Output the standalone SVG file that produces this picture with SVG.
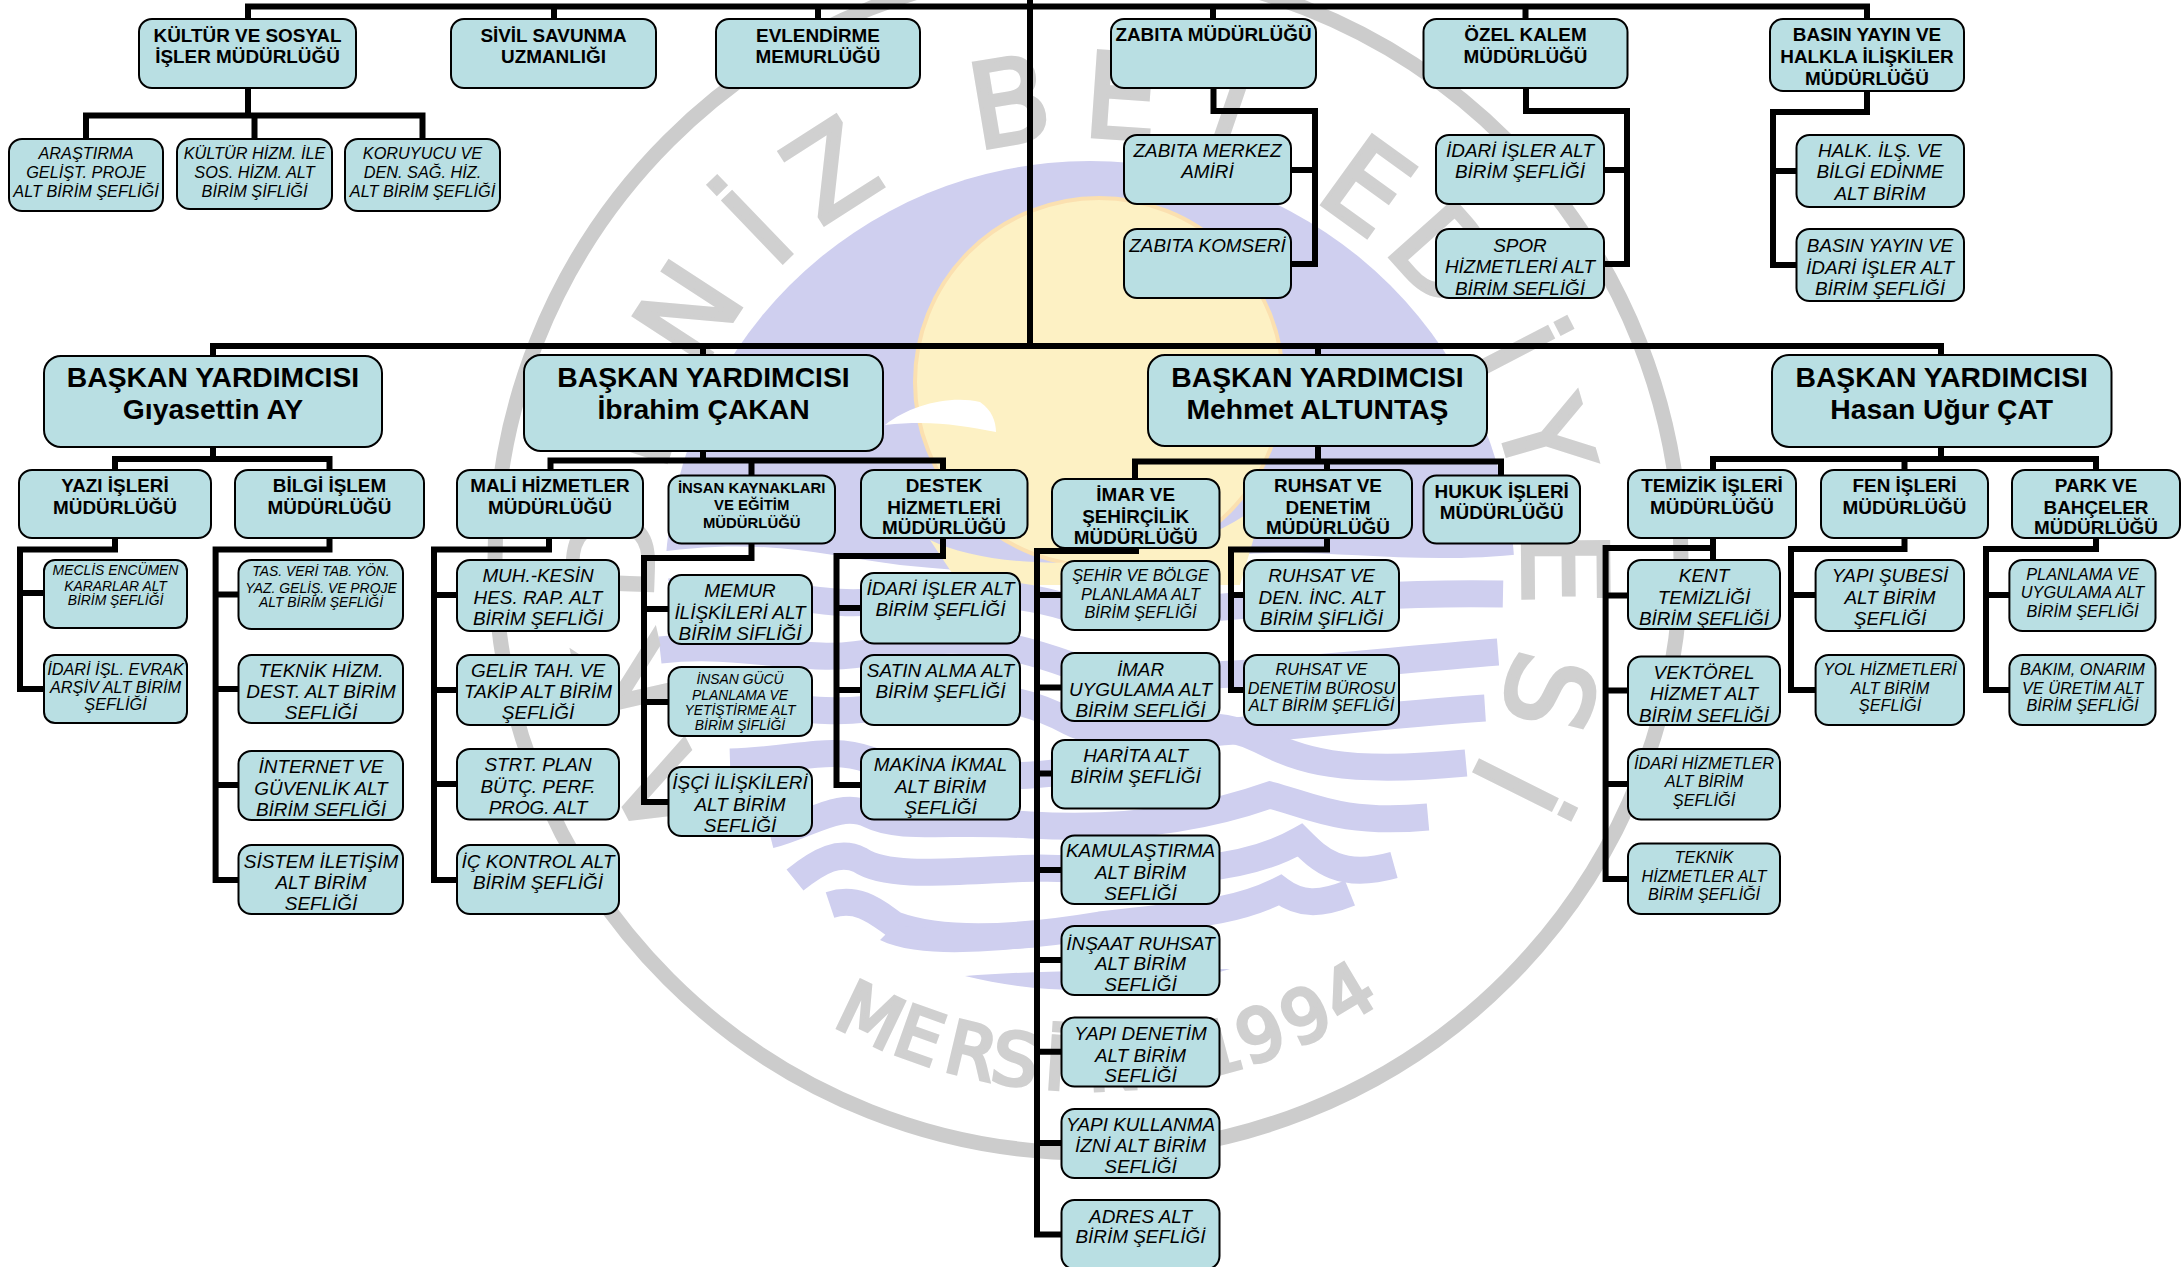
<svg xmlns="http://www.w3.org/2000/svg" xmlns:xlink="http://www.w3.org/1999/xlink" width="2181" height="1267" viewBox="0 0 2181 1267">
<style>
text{font-family:"Liberation Sans",Arial,sans-serif;text-anchor:middle;fill:#000}
.b{fill:#b9dfe3;stroke:#000;stroke-width:2}
.c{fill:none;stroke:#000;stroke-width:6;stroke-linecap:square;stroke-linejoin:miter}
.v{font-size:28.3px;font-weight:700}
.h{font-size:18.9px;font-weight:700}
.k{font-size:14.9px;font-weight:700}
.i{font-size:18.9px;font-style:italic}
.s{font-size:16.3px;font-style:italic}
.t{font-size:13.9px;font-style:italic}
.wl{font-family:"DejaVu Sans",sans-serif;fill:#d0d0d0;stroke:#d0d0d0;stroke-width:4}
.wv{fill:none;stroke:#cfcfef;stroke-width:27}
</style>
<defs>
<path id="arcTop" pathLength="360" d="M1088 137A435 435 0 1 1 1087.99 137Z"/>
<path id="arcBot" pathLength="360" d="M1088 1090A530 530 0 1 0 1087.99 1090Z"/>
<clipPath id="domeClip"><path d="M640 100H1540V552C1400 570 1300 540 1200 560C1100 580 1000 575 900 565C820 555 760 535 640 555Z"/></clipPath>
</defs>
<rect width="2181" height="1267" fill="#fff"/>
<g id="watermark">
<circle cx="1088" cy="560" r="593" fill="none" stroke="#ccc" stroke-width="15"/>
<circle cx="1090" cy="586" r="425" fill="#cfcfef" clip-path="url(#domeClip)"/>
<circle cx="1099" cy="382" r="184" fill="#fdf1c4" stroke="#fbe0b0" stroke-width="4"/>
<path d="M930 540C1000 575 1180 575 1265 500L1240 585H960Z" fill="#fdf1c4"/>
<path d="M885 425C910 405 950 395 980 402C992 410 996 422 996 432C960 425 930 420 885 425Z" fill="#fff"/>
<g id="waves">
<path class="wv" d="M670 592C760 580 820 612 885 600S1010 590 1070 608S1300 590 1503 594"/>
<path class="wv" d="M660 650C750 640 812 668 880 650S1000 640 1070 665S1300 668 1498 652"/>
<path class="wv" d="M690 705C760 700 830 720 890 705S1010 690 1070 722S1300 720 1485 708"/>
<path class="wv" d="M730 762C800 760 830 745 870 760S1010 780 1060 772C1120 760 1180 700 1260 740C1300 760 1340 775 1466 763"/>
<path class="wv" d="M770 835C810 825 840 800 870 815C900 830 950 820 1030 825C1120 830 1200 820 1270 795C1310 805 1340 825 1428 817"/>
<path class="wv" stroke-width="24" d="M795 880C820 860 840 850 860 860C890 880 960 870 1040 868C1140 870 1230 880 1300 840C1320 860 1340 880 1394 865"/>
<path class="wv" stroke-width="24" d="M830 905C860 895 880 915 895 925C950 945 1040 935 1100 925C1180 915 1230 915 1280 890C1300 905 1320 905 1350 893"/>
<path d="M965 976C1040 970 1140 970 1230 969C1160 990 1060 1000 965 976Z" fill="#cfcfef"/>
<path d="M880 940C920 960 1000 950 1040 947L1040 925C990 930 930 930 895 925Z" fill="#cfcfef"/>
</g>
<text class="wl" font-size="117"><textPath xlink:href="#arcTop" href="#arcTop" startOffset="242.4">A</textPath><textPath xlink:href="#arcTop" href="#arcTop" startOffset="257">K</textPath><textPath xlink:href="#arcTop" href="#arcTop" startOffset="272">D</textPath><textPath xlink:href="#arcTop" href="#arcTop" startOffset="288">E</textPath><textPath xlink:href="#arcTop" href="#arcTop" startOffset="303">N</textPath><textPath xlink:href="#arcTop" href="#arcTop" startOffset="316.2">İ</textPath><textPath xlink:href="#arcTop" href="#arcTop" startOffset="327.4">Z</textPath><textPath xlink:href="#arcTop" href="#arcTop" startOffset="350.5">B</textPath><textPath xlink:href="#arcTop" href="#arcTop" startOffset="4">E</textPath><textPath xlink:href="#arcTop" href="#arcTop" startOffset="19">L</textPath><textPath xlink:href="#arcTop" href="#arcTop" startOffset="35.9">E</textPath><textPath xlink:href="#arcTop" href="#arcTop" startOffset="48.3">D</textPath><textPath xlink:href="#arcTop" href="#arcTop" startOffset="62.6">İ</textPath><textPath xlink:href="#arcTop" href="#arcTop" startOffset="73.7">Y</textPath><textPath xlink:href="#arcTop" href="#arcTop" startOffset="89.5">E</textPath><textPath xlink:href="#arcTop" href="#arcTop" startOffset="104.6">S</textPath><textPath xlink:href="#arcTop" href="#arcTop" startOffset="116.5">İ</textPath></text>
<text class="wl" font-size="72"><textPath xlink:href="#arcBot" href="#arcBot" startOffset="334.5">M</textPath><textPath xlink:href="#arcBot" href="#arcBot" startOffset="340.5">E</textPath><textPath xlink:href="#arcBot" href="#arcBot" startOffset="346.7">R</textPath><textPath xlink:href="#arcBot" href="#arcBot" startOffset="351.7">S</textPath><textPath xlink:href="#arcBot" href="#arcBot" startOffset="356.3">İ</textPath><textPath xlink:href="#arcBot" href="#arcBot" startOffset="3">N</textPath><textPath xlink:href="#arcBot" href="#arcBot" startOffset="15">1</textPath><textPath xlink:href="#arcBot" href="#arcBot" startOffset="20">9</textPath><textPath xlink:href="#arcBot" href="#arcBot" startOffset="25.6">9</textPath><textPath xlink:href="#arcBot" href="#arcBot" startOffset="31">4</textPath></text>
</g>
<g id="connectors">
<path class="c" d="M1030 0V346M248 19V6.5H1867V19M554 6.5V19M818 6.5V19M1213 6.5V19M1525.5 6.5V19"/>
<path class="c" d="M213 356V346H1941V355M703 346V355M1318 346V355"/>
<path class="c" d="M248 88V115.5M86 139V115.5H422.5V139M254.5 115.5V139"/>
<path class="c" d="M1213.5 88V111H1315V264H1291M1291 170H1315"/>
<path class="c" d="M1526 88V111H1627V264H1604M1604 170H1627"/>
<path class="c" d="M1867 91V112H1773V265H1796.5M1773 171H1796.5"/>
<path class="c" d="M213 447V459M115 470V459H329.5V470"/>
<path class="c" d="M115 538V549.5H20V689H44M20 593H44"/>
<path class="c" d="M329.5 538V549.5H215.6V880H238.5M215.6 594.5H238.5M215.6 689H238.5M215.6 785H238.5"/>
<path class="c" d="M703 451V460.5M550.5 470V460.5H943V470M751.5 460.5V475.5"/>
<path class="c" d="M549 538V549.5H434V880H457M434 595H457M434 690H457M434 784H457"/>
<path class="c" d="M751.5 544V558H644V802H668.5M644 609H668.5M644 702H668.5"/>
<path class="c" d="M943 538V556H836.5V785H861M836.5 608H861M836.5 690H861"/>
<path class="c" d="M1318 446V461.5M1135 479V461.5H1501V475.5M1327 461.5V470"/>
<path class="c" d="M1136 548V551H1037V1234.5H1061M1037 595H1061M1037 687.5H1061M1037 773.6H1052M1037 870H1061M1037 960H1061M1037 1051.7H1061M1037 1143H1061"/>
<path class="c" d="M1327 538V549.5H1231V690H1244M1231 595H1244"/>
<path class="c" d="M1941 447V459M1713 470V459H2096V470M1904.5 459V470"/>
<path class="c" d="M1713 538V560M1713 548H1605.6V879H1628M1605.6 595.6H1628M1605.6 690.5H1628M1605.6 784H1628"/>
<path class="c" d="M1904.5 538V549H1791V690H1815.6M1791 595H1815.6"/>
<path class="c" d="M2096 538V549H1986V690H2009.4M1986 595H2009.4"/>
</g>
<g id="n-kultur"><rect class="b" x="139" y="19" width="217" height="69" rx="13"/><text class="h" y="41.7"><tspan x="247.5">KÜLTÜR VE SOSYAL</tspan><tspan x="247.5" y="63.3">İŞLER MÜDÜRLÜĞÜ</tspan></text></g>
<g id="n-sivil"><rect class="b" x="451" y="19" width="205" height="69" rx="13"/><text class="h" y="41.7"><tspan x="553.5">SİVİL SAVUNMA</tspan><tspan x="553.5" y="63.3">UZMANLIĞI</tspan></text></g>
<g id="n-evlendirme"><rect class="b" x="716" y="19" width="204" height="69" rx="13"/><text class="h" y="41.7"><tspan x="818">EVLENDİRME</tspan><tspan x="818" y="63.3">MEMURLÜĞÜ</tspan></text></g>
<g id="n-zabita"><rect class="b" x="1111" y="19" width="205" height="69" rx="13"/><text class="h" y="41"><tspan x="1213.5">ZABITA MÜDÜRLÜĞÜ</tspan></text></g>
<g id="n-ozel"><rect class="b" x="1423.5" y="19" width="204" height="69" rx="13"/><text class="h" y="41"><tspan x="1525.5">ÖZEL KALEM</tspan><tspan x="1525.5" y="62.7">MÜDÜRLÜĞÜ</tspan></text></g>
<g id="n-basin"><rect class="b" x="1770" y="19" width="194" height="72" rx="13"/><text class="h" y="41"><tspan x="1867">BASIN YAYIN VE</tspan><tspan x="1867" y="62.7">HALKLA İLİŞKİLER</tspan><tspan x="1867" y="84.7">MÜDÜRLÜĞÜ</tspan></text></g>
<g id="n-arastirma"><rect class="b" x="9" y="139" width="154" height="72" rx="13"/><text class="s" y="159.3"><tspan x="86">ARAŞTIRMA</tspan><tspan x="86" y="177.7">GELİŞT. PROJE</tspan><tspan x="86" y="196.5">ALT BİRİM ŞEFLİĞİ</tspan></text></g>
<g id="n-kulturhizm"><rect class="b" x="177" y="139" width="155" height="70" rx="13"/><text class="s" y="159.3"><tspan x="254.5">KÜLTÜR HİZM. İLE</tspan><tspan x="254.5" y="177.7">SOS. HİZM. ALT</tspan><tspan x="254.5" y="196.5">BİRİM ŞİFLİĞİ</tspan></text></g>
<g id="n-koruyucu"><rect class="b" x="345" y="139" width="155" height="72" rx="13"/><text class="s" y="159.3"><tspan x="422.5">KORUYUCU VE</tspan><tspan x="422.5" y="177.7">DEN. SAĞ. HİZ.</tspan><tspan x="422.5" y="196.5">ALT BİRİM ŞEFLİĞİ</tspan></text></g>
<g id="n-zabitamerkez"><rect class="b" x="1124" y="135" width="167" height="69" rx="13"/><text class="i" y="157"><tspan x="1207.5">ZABITA MERKEZ</tspan><tspan x="1207.5" y="178">AMİRİ</tspan></text></g>
<g id="n-zabitakomser"><rect class="b" x="1124" y="229" width="167" height="69" rx="13"/><text class="i" y="251.7"><tspan x="1207.5">ZABITA KOMSERİ</tspan></text></g>
<g id="n-idariisler1"><rect class="b" x="1436" y="135" width="168" height="69" rx="13"/><text class="i" y="157"><tspan x="1520">İDARİ İŞLER ALT</tspan><tspan x="1520" y="178">BİRİM ŞEFLİĞİ</tspan></text></g>
<g id="n-spor"><rect class="b" x="1436" y="229" width="168" height="69" rx="13"/><text class="i" y="252"><tspan x="1520">SPOR</tspan><tspan x="1520" y="273">HİZMETLERİ ALT</tspan><tspan x="1520" y="295">BİRİM SEFLİĞİ</tspan></text></g>
<g id="n-halk"><rect class="b" x="1796.5" y="135" width="167.5" height="72" rx="13"/><text class="i" y="157"><tspan x="1880">HALK. İLŞ. VE</tspan><tspan x="1880" y="178">BİLGİ EDİNME</tspan><tspan x="1880" y="200">ALT BİRİM</tspan></text></g>
<g id="n-basinyayin"><rect class="b" x="1796.5" y="229" width="167.5" height="72" rx="13"/><text class="i" y="252"><tspan x="1880">BASIN YAYIN VE</tspan><tspan x="1880" y="273.5">İDARİ İŞLER ALT</tspan><tspan x="1880" y="295">BİRİM ŞEFLİĞİ</tspan></text></g>
<g id="n-vp1"><rect class="b" x="44" y="356" width="338" height="91" rx="17"/><text class="v" y="386.7"><tspan x="213">BAŞKAN YARDIMCISI</tspan><tspan x="213" y="418.5">Gıyasettin AY</tspan></text></g>
<g id="n-vp2"><rect class="b" x="524" y="355" width="359" height="96" rx="17"/><text class="v" y="386.7"><tspan x="703.5">BAŞKAN YARDIMCISI</tspan><tspan x="703.5" y="418.5">İbrahim ÇAKAN</tspan></text></g>
<g id="n-vp3"><rect class="b" x="1148" y="355" width="339" height="91" rx="17"/><text class="v" y="386.7"><tspan x="1317.5">BAŞKAN YARDIMCISI</tspan><tspan x="1317.5" y="418.5">Mehmet ALTUNTAŞ</tspan></text></g>
<g id="n-vp4"><rect class="b" x="1772" y="355" width="339.5" height="92" rx="17"/><text class="v" y="386.7"><tspan x="1941.7">BAŞKAN YARDIMCISI</tspan><tspan x="1941.7" y="418.5">Hasan Uğur ÇAT</tspan></text></g>
<g id="n-yazi"><rect class="b" x="19" y="470" width="192" height="68" rx="13"/><text class="h" y="492.3"><tspan x="115">YAZI İŞLERİ</tspan><tspan x="115" y="514">MÜDÜRLÜĞÜ</tspan></text></g>
<g id="n-bilgi"><rect class="b" x="235" y="470" width="189" height="68" rx="13"/><text class="h" y="492.3"><tspan x="329.5">BİLGİ İŞLEM</tspan><tspan x="329.5" y="514">MÜDÜRLÜĞÜ</tspan></text></g>
<g id="n-meclis"><rect class="b" x="44" y="560" width="143" height="68" rx="11"/><text class="t" y="574.6"><tspan x="115.5">MECLİS ENCÜMEN</tspan><tspan x="115.5" y="590.7">KARARLAR ALT</tspan><tspan x="115.5" y="605.2">BİRİM ŞEFLİĞİ</tspan></text></g>
<g id="n-idariisl"><rect class="b" x="44" y="655" width="143" height="68" rx="11"/><text class="s" y="674.9"><tspan x="115.5">İDARİ İŞL. EVRAK</tspan><tspan x="115.5" y="692.8">ARŞİV ALT BİRİM</tspan><tspan x="115.5" y="710.4">ŞEFLİĞİ</tspan></text></g>
<g id="n-tas"><rect class="b" x="238.5" y="560" width="164.5" height="69" rx="13"/><text class="t" y="576"><tspan x="321">TAS. VERİ TAB. YÖN.</tspan><tspan x="321" y="592.6">YAZ. GELİŞ. VE PROJE</tspan><tspan x="321" y="607">ALT BİRİM ŞEFLİĞİ</tspan></text></g>
<g id="n-teknikhizm"><rect class="b" x="238.5" y="655" width="164.5" height="68" rx="13"/><text class="i" y="676.8"><tspan x="321">TEKNİK HİZM.</tspan><tspan x="321" y="697.8">DEST. ALT BİRİM</tspan><tspan x="321" y="718.9">SEFLİĞİ</tspan></text></g>
<g id="n-internet"><rect class="b" x="238.5" y="751" width="164.5" height="69" rx="13"/><text class="i" y="773.2"><tspan x="321">İNTERNET VE</tspan><tspan x="321" y="794.6">GÜVENLİK ALT</tspan><tspan x="321" y="815.7">BİRİM SEFLİĞİ</tspan></text></g>
<g id="n-sistem"><rect class="b" x="238.5" y="845" width="164.5" height="69" rx="13"/><text class="i" y="868"><tspan x="321">SİSTEM İLETİŞİM</tspan><tspan x="321" y="889">ALT BİRİM</tspan><tspan x="321" y="910">SEFLİĞİ</tspan></text></g>
<g id="n-mali"><rect class="b" x="457" y="470" width="186" height="68" rx="13"/><text class="h" y="492.3"><tspan x="550">MALİ HİZMETLER</tspan><tspan x="550" y="514">MÜDÜRLÜĞÜ</tspan></text></g>
<g id="n-insan"><rect class="b" x="668.5" y="475.5" width="166.5" height="68" rx="13"/><text class="k" y="493"><tspan x="751.7">İNSAN KAYNAKLARI</tspan><tspan x="751.7" y="510.3">VE EĞİTİM</tspan><tspan x="751.7" y="527.5">MÜDÜRLÜĞÜ</tspan></text></g>
<g id="n-destek"><rect class="b" x="861" y="470" width="166.5" height="68" rx="13"/><text class="h" y="492.3"><tspan x="944">DESTEK</tspan><tspan x="944" y="514">HİZMETLERİ</tspan><tspan x="944" y="534.4">MÜDÜRLÜĞÜ</tspan></text></g>
<g id="n-muh"><rect class="b" x="457" y="560" width="162" height="71" rx="13"/><text class="i" y="581.9"><tspan x="538">MUH.-KESİN</tspan><tspan x="538" y="604">HES. RAP. ALT</tspan><tspan x="538" y="624.7">BİRİM ŞEFLİĞİ</tspan></text></g>
<g id="n-gelir"><rect class="b" x="457" y="655" width="162" height="70" rx="13"/><text class="i" y="676.8"><tspan x="538">GELİR TAH. VE</tspan><tspan x="538" y="697.8">TAKİP ALT BİRİM</tspan><tspan x="538" y="718.9">ŞEFLİĞİ</tspan></text></g>
<g id="n-strt"><rect class="b" x="457" y="749" width="162" height="70.5" rx="13"/><text class="i" y="771.3"><tspan x="538">STRT. PLAN</tspan><tspan x="538" y="793">BÜTÇ. PERF.</tspan><tspan x="538" y="813.8">PROG. ALT</tspan></text></g>
<g id="n-ic"><rect class="b" x="457" y="845" width="162" height="69" rx="13"/><text class="i" y="868"><tspan x="538">İÇ KONTROL ALT</tspan><tspan x="538" y="889">BİRİM ŞEFLİĞİ</tspan></text></g>
<g id="n-memur"><rect class="b" x="668.5" y="575" width="143.5" height="69" rx="13"/><text class="i" y="597"><tspan x="740">MEMUR</tspan><tspan x="740" y="619">İLİŞKİLERİ ALT</tspan><tspan x="740" y="639.7">BİRİM SİFLİĞİ</tspan></text></g>
<g id="n-insangucu"><rect class="b" x="668.5" y="667" width="143.5" height="69" rx="13"/><text class="t" y="684.4"><tspan x="740">İNSAN GÜCÜ</tspan><tspan x="740" y="699.7">PLANLAMA VE</tspan><tspan x="740" y="715">YETİŞTİRME ALT</tspan><tspan x="740" y="730.4">BİRİM ŞİFLİĞİ</tspan></text></g>
<g id="n-isci"><rect class="b" x="668.5" y="767" width="143.5" height="69" rx="13"/><text class="i" y="788.5"><tspan x="740">İŞÇİ İLİŞKİLERİ</tspan><tspan x="740" y="810.7">ALT BİRİM</tspan><tspan x="740" y="831.8">SEFLİĞİ</tspan></text></g>
<g id="n-idari2"><rect class="b" x="861" y="573" width="159" height="70.5" rx="13"/><text class="i" y="595.3"><tspan x="940.5">İDARİ İŞLER ALT</tspan><tspan x="940.5" y="616.3">BİRİM ŞEFLİĞİ</tspan></text></g>
<g id="n-satin"><rect class="b" x="861" y="655" width="159" height="70" rx="13"/><text class="i" y="676.8"><tspan x="940.5">SATIN ALMA ALT</tspan><tspan x="940.5" y="697.8">BİRİM ŞEFLİĞİ</tspan></text></g>
<g id="n-makina"><rect class="b" x="861" y="749" width="159" height="70.5" rx="13"/><text class="i" y="771.3"><tspan x="940.5">MAKİNA İKMAL</tspan><tspan x="940.5" y="793">ALT BİRİM</tspan><tspan x="940.5" y="813.8">ŞEFLİĞİ</tspan></text></g>
<g id="n-imar"><rect class="b" x="1052" y="479" width="167.5" height="69" rx="13"/><text class="h" y="500.7"><tspan x="1135.7">İMAR VE</tspan><tspan x="1135.7" y="523">ŞEHİRÇİLİK</tspan><tspan x="1135.7" y="543.6">MÜDÜRLÜĞÜ</tspan></text></g>
<g id="n-ruhsat"><rect class="b" x="1244" y="470" width="168" height="68" rx="13"/><text class="h" y="492.3"><tspan x="1328">RUHSAT VE</tspan><tspan x="1328" y="514">DENETİM</tspan><tspan x="1328" y="534.4">MÜDÜRLÜĞÜ</tspan></text></g>
<g id="n-hukuk"><rect class="b" x="1423.5" y="475.5" width="156.5" height="68" rx="13"/><text class="h" y="498"><tspan x="1501.7">HUKUK İŞLERİ</tspan><tspan x="1501.7" y="519">MÜDÜRLÜĞÜ</tspan></text></g>
<g id="n-sehir"><rect class="b" x="1061.5" y="561" width="158" height="69" rx="13"/><text class="s" y="581"><tspan x="1140.5">ŞEHİR VE BÖLGE</tspan><tspan x="1140.5" y="599.5">PLANLAMA ALT</tspan><tspan x="1140.5" y="618.2">BİRİM ŞEFLİĞİ</tspan></text></g>
<g id="n-imaruyg"><rect class="b" x="1061.5" y="653" width="158" height="68" rx="13"/><text class="i" y="676"><tspan x="1140.5">İMAR</tspan><tspan x="1140.5" y="696">UYGULAMA ALT</tspan><tspan x="1140.5" y="717">BİRİM SEFLİĞİ</tspan></text></g>
<g id="n-harita"><rect class="b" x="1052" y="740" width="167.5" height="68.5" rx="13"/><text class="i" y="762.1"><tspan x="1135.7">HARİTA ALT</tspan><tspan x="1135.7" y="782.8">BİRİM ŞEFLİĞİ</tspan></text></g>
<g id="n-kamu"><rect class="b" x="1061.5" y="835.6" width="158" height="68.4" rx="13"/><text class="i" y="857.4"><tspan x="1140.5">KAMULAŞTIRMA</tspan><tspan x="1140.5" y="878.8">ALT BİRİM</tspan><tspan x="1140.5" y="899.5">SEFLİĞİ</tspan></text></g>
<g id="n-insaat"><rect class="b" x="1061.5" y="926" width="158" height="69" rx="13"/><text class="i" y="950"><tspan x="1140.5">İNŞAAT RUHSAT</tspan><tspan x="1140.5" y="970">ALT BİRİM</tspan><tspan x="1140.5" y="990.7">SEFLİĞİ</tspan></text></g>
<g id="n-yapidenetim"><rect class="b" x="1061.5" y="1017.5" width="158" height="69" rx="13"/><text class="i" y="1040"><tspan x="1140.5">YAPI DENETİM</tspan><tspan x="1140.5" y="1061.7">ALT BİRİM</tspan><tspan x="1140.5" y="1082.3">SEFLİĞİ</tspan></text></g>
<g id="n-yapikullanma"><rect class="b" x="1061.5" y="1109" width="158" height="69" rx="13"/><text class="i" y="1130.7"><tspan x="1140.5">YAPI KULLANMA</tspan><tspan x="1140.5" y="1152.3">İZNİ ALT BİRİM</tspan><tspan x="1140.5" y="1173.3">SEFLİĞİ</tspan></text></g>
<g id="n-adres"><rect class="b" x="1061.5" y="1200" width="158" height="69" rx="13"/><text class="i" y="1223.3"><tspan x="1140.5">ADRES ALT</tspan><tspan x="1140.5" y="1243.3">BİRİM ŞEFLİĞİ</tspan></text></g>
<g id="n-ruhsatden"><rect class="b" x="1244" y="560" width="155" height="71" rx="13"/><text class="i" y="581.9"><tspan x="1321.5">RUHSAT VE</tspan><tspan x="1321.5" y="604">DEN. İNC. ALT</tspan><tspan x="1321.5" y="624.7">BİRİM ŞİFLİĞİ</tspan></text></g>
<g id="n-ruhsatburo"><rect class="b" x="1244" y="655" width="155" height="70" rx="13"/><text class="s" y="674.9"><tspan x="1321.5">RUHSAT VE</tspan><tspan x="1321.5" y="694">DENETİM BÜROSU</tspan><tspan x="1321.5" y="711.2">ALT BİRİM ŞEFLİĞİ</tspan></text></g>
<g id="n-temizlik"><rect class="b" x="1628" y="470" width="168" height="68" rx="13"/><text class="h" y="492.3"><tspan x="1712">TEMİZİK İŞLERİ</tspan><tspan x="1712" y="514">MÜDÜRLÜĞÜ</tspan></text></g>
<g id="n-fen"><rect class="b" x="1821" y="470" width="167" height="68" rx="13"/><text class="h" y="492.3"><tspan x="1904.5">FEN İŞLERİ</tspan><tspan x="1904.5" y="514">MÜDÜRLÜĞÜ</tspan></text></g>
<g id="n-park"><rect class="b" x="2012" y="470" width="168" height="68" rx="13"/><text class="h" y="492.3"><tspan x="2096">PARK VE</tspan><tspan x="2096" y="514">BAHÇELER</tspan><tspan x="2096" y="534.4">MÜDÜRLÜĞÜ</tspan></text></g>
<g id="n-kent"><rect class="b" x="1628" y="560" width="152" height="69" rx="13"/><text class="i" y="581.9"><tspan x="1704">KENT</tspan><tspan x="1704" y="604">TEMİZLİĞİ</tspan><tspan x="1704" y="624.7">BİRİM ŞEFLİĞİ</tspan></text></g>
<g id="n-vektorel"><rect class="b" x="1628" y="656.5" width="152" height="68.5" rx="13"/><text class="i" y="678.7"><tspan x="1704">VEKTÖREL</tspan><tspan x="1704" y="699.7">HİZMET ALT</tspan><tspan x="1704" y="721.5">BİRİM SEFLİĞİ</tspan></text></g>
<g id="n-idarihizm"><rect class="b" x="1628" y="749" width="152" height="70.5" rx="13"/><text class="s" y="768.6"><tspan x="1704">İDARİ HİZMETLER</tspan><tspan x="1704" y="787">ALT BİRİM</tspan><tspan x="1704" y="806">ŞEFLİĞİ</tspan></text></g>
<g id="n-teknikhizmetler"><rect class="b" x="1628" y="843.6" width="152" height="70.4" rx="13"/><text class="s" y="863"><tspan x="1704">TEKNİK</tspan><tspan x="1704" y="881.5">HİZMETLER ALT</tspan><tspan x="1704" y="900">BİRİM ŞEFLİĞİ</tspan></text></g>
<g id="n-yapisube"><rect class="b" x="1815.6" y="560" width="148.4" height="71" rx="13"/><text class="i" y="581.9"><tspan x="1890">YAPI ŞUBESİ</tspan><tspan x="1890" y="604">ALT BİRİM</tspan><tspan x="1890" y="624.7">ŞEFLİĞİ</tspan></text></g>
<g id="n-yol"><rect class="b" x="1815.6" y="655" width="148.4" height="70" rx="13"/><text class="s" y="674.9"><tspan x="1890">YOL HİZMETLERİ</tspan><tspan x="1890" y="694">ALT BİRİM</tspan><tspan x="1890" y="711.2">ŞEFLİĞİ</tspan></text></g>
<g id="n-planlama"><rect class="b" x="2009.4" y="560" width="146.1" height="71" rx="13"/><text class="s" y="580.3"><tspan x="2082.5">PLANLAMA VE</tspan><tspan x="2082.5" y="598.3">UYGULAMA ALT</tspan><tspan x="2082.5" y="617">BİRİM ŞEFLİĞİ</tspan></text></g>
<g id="n-bakim"><rect class="b" x="2009.4" y="655" width="146.1" height="70" rx="13"/><text class="s" y="674.9"><tspan x="2082.5">BAKIM, ONARIM</tspan><tspan x="2082.5" y="694">VE ÜRETİM ALT</tspan><tspan x="2082.5" y="711.2">BİRİM ŞEFLİĞİ</tspan></text></g>
</svg>
